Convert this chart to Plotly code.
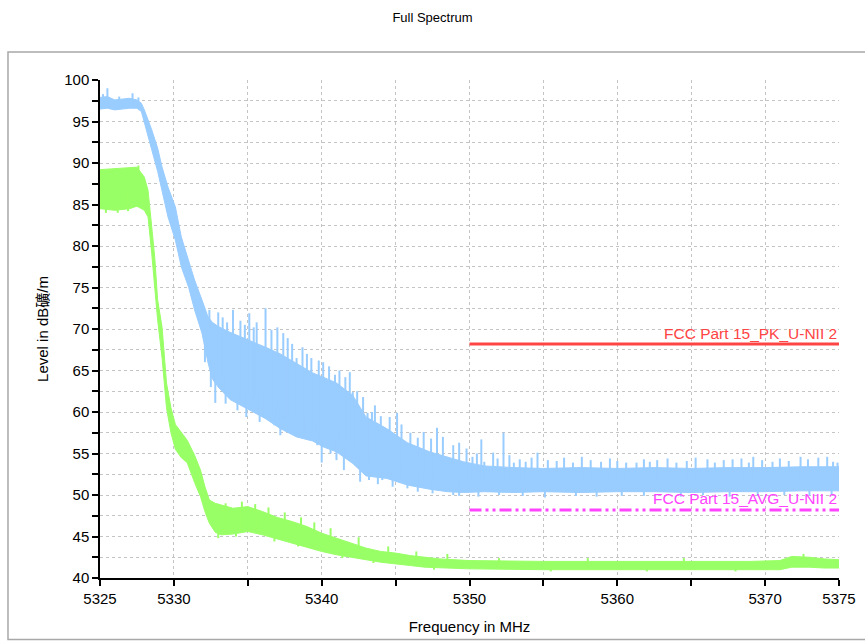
import plotly.graph_objects as go

# ---------------- data ----------------
# Peak trace (blue): envelope of the dense noise band
blue_f = [5325.0, 5325.5, 5326.0, 5326.5, 5327.0, 5327.5, 5327.8, 5328.0, 5328.5, 5328.9,
          5329.2, 5329.6, 5330.1, 5330.5, 5331.0, 5331.4, 5331.9, 5332.3, 5332.6, 5333.0,
          5333.8, 5334.9, 5336.2, 5337.2, 5338.3, 5339.4, 5340.1, 5341.0, 5342.1, 5343.0,
          5344.4, 5345.8, 5347.3, 5348.5, 5349.6, 5351.0, 5353.0, 5355.0, 5357.5, 5360.0,
          5362.5, 5365.0, 5367.5, 5370.0, 5372.5, 5375.0]
blue_lo = [96.5, 96.6, 96.4, 96.5, 96.6, 96.6, 96.2, 94.8, 91.6, 89.0,
           86.7, 83.5, 80.7, 77.5, 75.0, 72.3, 69.5, 66.0, 64.0, 63.0,
           61.5, 60.4, 59.2, 58.0, 57.0, 56.5, 55.8, 55.2, 53.8, 52.3,
           52.0, 51.2, 50.7, 50.4, 50.3, 50.4, 50.3, 50.4, 50.3, 50.4,
           50.4, 50.3, 50.4, 50.4, 50.5, 50.5]
blue_hi = [97.9, 98.0, 97.6, 97.7, 97.8, 97.6, 97.2, 96.4, 94.0, 91.8,
           89.5, 87.1, 84.7, 81.1, 78.3, 75.9, 73.5, 71.5, 70.8, 70.3,
           69.6, 68.8, 67.8, 67.0, 65.8, 64.7, 64.2, 63.5, 62.0, 59.4,
           58.0, 56.3, 55.2, 54.6, 54.0, 53.5, 53.3, 53.2, 53.3, 53.2,
           53.3, 53.2, 53.3, 53.3, 53.4, 53.4]

# Peak trace spikes (frequency, low end, high end)
blue_spike_f = [5325.2, 5325.5, 5326.3, 5327.2, 5327.6,
                5332.4, 5333.0, 5333.3, 5334.0, 5334.8, 5335.1, 5335.6, 5336.2, 5337.0, 5337.7,
                5338.3, 5339.3, 5340.1, 5340.9, 5341.6, 5342.1, 5343.1, 5343.6, 5344.6, 5345.1,
                5346.5, 5347.8, 5348.9,
                5332.1, 5333.6, 5334.5, 5335.4, 5336.6, 5337.4, 5338.0, 5338.7, 5339.0, 5339.8,
                5340.5, 5341.2, 5341.9, 5342.4, 5342.8, 5343.4, 5344.0, 5345.4, 5346.0, 5346.9,
                5347.4, 5348.2, 5349.3, 5349.8,
                5350.2, 5350.8, 5351.6, 5352.3, 5353.4, 5354.6, 5355.9, 5357.6, 5358.9, 5360.0,
                5361.3, 5362.7, 5364.7, 5366.1, 5367.8, 5369.2, 5370.5, 5372.4, 5373.6, 5374.9,
                5350.5, 5351.0, 5351.9, 5352.7, 5353.0, 5353.8, 5354.2, 5355.3, 5356.4, 5357.0,
                5358.2, 5359.5, 5360.6, 5361.8, 5362.2, 5363.4, 5364.0, 5365.3, 5366.6, 5367.2,
                5368.4, 5368.9, 5369.8, 5371.0, 5371.6, 5372.9, 5374.2, 5374.6,
                5332.5, 5332.8, 5334.3, 5334.9, 5335.8, 5337.2, 5338.2, 5340.0, 5341.5, 5342.6,
                5344.1, 5345.8, 5348.9, 5333.5, 5336.0, 5336.8, 5338.9, 5339.7, 5340.6, 5341.0,
                5343.2, 5343.8, 5344.8, 5346.5, 5347.5, 5349.3,
                5350.6, 5352.0, 5353.6, 5355.1, 5357.2, 5358.6, 5360.3, 5361.8, 5364.3, 5365.8,
                5367.6, 5369.5, 5371.3, 5373.0, 5374.5]
blue_spike_lo = [97.0, 97.0, 97.0, 97.0, 96.8,
                 66.0, 64.0, 64.0, 63.0, 62.0, 62.0, 62.0, 61.0, 60.0, 59.0,
                 59.0, 58.0, 57.0, 57.0, 56.0, 55.0, 54.0, 54.0, 53.0, 53.0,
                 52.0, 52.0, 51.5,
                 66.0, 63.0, 62.0, 61.0, 60.0, 59.0, 59.0, 58.0, 58.0, 57.0,
                 57.0, 56.0, 55.0, 54.0, 54.0, 53.0, 53.0, 52.0, 52.0, 52.0,
                 51.5, 51.5, 51.5, 51.5,
                 51.5, 51.5, 51.5, 51.5, 51.5, 51.5, 51.5, 51.5, 51.5, 51.5,
                 51.5, 51.5, 51.5, 51.5, 51.5, 51.5, 51.5, 51.5, 51.5, 51.5,
                 51.5, 51.5, 51.5, 51.5, 51.5, 51.5, 51.5, 51.5, 51.5, 51.5,
                 51.5, 51.5, 51.5, 51.5, 51.5, 51.5, 51.5, 51.5, 51.5, 51.5,
                 51.5, 51.5, 51.5, 51.5, 51.5, 51.5, 51.5, 51.5,
                 63.0, 61.1, 60.2, 59.4, 58.8, 57.2, 57.5, 53.9, 53.0, 51.6,
                 51.8, 50.8, 50.0, 61.0, 59.5, 58.4, 57.0, 56.0, 55.0, 54.2,
                 51.8, 51.3, 51.0, 50.4, 50.2, 49.9,
                 49.8, 50.0, 49.9, 49.7, 49.9, 49.8, 49.9, 49.9, 49.8, 50.0,
                 49.8, 49.9, 50.0, 49.9, 50.0]
blue_spike_hi = [98.3, 99.0, 98.0, 98.4, 97.9,
                 72.3, 72.0, 71.4, 72.3, 70.5, 71.9, 70.8, 72.5, 70.2, 68.9,
                 66.5, 66.5, 66.0, 64.5, 64.2, 62.4, 59.9, 60.8, 59.4, 59.9,
                 56.9, 58.1, 56.0,
                 70.5, 70.8, 71.0, 70.2, 69.9, 69.5, 68.2, 67.8, 67.0, 66.2,
                 65.5, 65.0, 64.8, 62.5, 61.8, 60.0, 59.5, 58.5, 57.5, 57.6,
                 56.8, 57.0, 56.3, 55.6,
                 54.6, 56.7, 55.1, 57.5, 54.3, 55.1, 54.1, 54.6, 54.0, 54.1,
                 53.9, 54.2, 54.1, 54.3, 54.3, 54.6, 54.0, 54.6, 54.5, 53.9,
                 55.0, 54.0, 54.4, 54.8, 53.9, 54.0, 54.5, 54.2, 54.5, 53.9,
                 54.2, 54.4, 53.9, 54.3, 54.0, 54.4, 53.9, 54.5, 53.9, 54.2,
                 54.4, 53.9, 54.2, 54.4, 54.1, 54.3, 54.6, 54.0,
                 66.0, 65.0, 63.0, 62.0, 62.0, 60.0, 60.0, 58.0, 56.0, 55.0,
                 54.0, 53.0, 52.0, 64.0, 62.0, 61.0, 60.0, 59.0, 58.0, 57.0,
                 54.0, 54.0, 53.0, 52.0, 52.0, 51.5,
                 51.0, 51.0, 51.0, 51.0, 51.0, 51.0, 51.0, 51.0, 51.0, 51.0,
                 51.0, 51.0, 51.0, 51.0, 51.0]

# Average trace (green): envelope of the dense noise band
green_f = [5325.0, 5326.0, 5327.0, 5327.5, 5328.0, 5328.25, 5328.5, 5328.7, 5328.9, 5329.2,
           5329.5, 5329.8, 5330.1, 5330.5, 5330.9, 5331.4, 5331.8, 5332.1, 5332.4, 5332.8,
           5333.2, 5334.0, 5335.0, 5336.0, 5337.0, 5338.0, 5339.0, 5340.0, 5341.0, 5342.0,
           5343.0, 5344.0, 5345.0, 5346.0, 5347.0, 5348.0, 5350.0, 5355.0, 5360.0, 5365.0,
           5369.0, 5371.0, 5371.8, 5373.0, 5374.0, 5375.0]
green_lo = [84.5, 84.3, 84.5, 84.8, 84.3, 83.5, 79.1, 75.5, 71.1, 66.5,
            60.5, 57.5, 55.5, 54.5, 53.9, 51.5, 49.8, 48.0, 46.6, 45.5,
            45.2, 45.3, 45.6, 45.2, 44.7, 44.2, 43.7, 43.2, 42.8, 42.5,
            42.2, 41.9, 41.7, 41.5, 41.3, 41.2, 41.1, 41.0, 41.0, 41.0,
            41.0, 41.0, 41.3, 41.3, 41.2, 41.2]
green_hi = [89.2, 89.3, 89.4, 89.5, 88.3, 86.7, 82.3, 78.7, 73.5, 70.2,
            63.5, 60.5, 58.5, 57.5, 56.6, 54.8, 53.0, 51.0, 49.4, 49.0,
            48.8, 48.4, 48.6, 48.0, 47.3, 46.8, 46.2, 45.4, 44.8, 44.2,
            43.6, 43.2, 43.0, 42.7, 42.5, 42.3, 42.1, 42.0, 42.0, 42.0,
            42.0, 42.1, 42.6, 42.5, 42.3, 42.2]

# Average trace spikes (frequency, low end, high end)
green_spike_f = [5325.4, 5326.2, 5326.9, 5327.6,
                 5333.5, 5334.6, 5335.5, 5336.4, 5337.5, 5338.6, 5339.5, 5340.6, 5342.5, 5344.5,
                 5346.4, 5348.5, 5333.0, 5334.2, 5336.8, 5338.4, 5341.4, 5343.5, 5347.6,
                 5352.0, 5355.5, 5358.0, 5362.0, 5364.5, 5368.0, 5372.6]
green_spike_lo = [84.0, 84.0, 84.2, 86.0,
                  46.0, 46.0, 46.0, 45.0, 45.0, 44.5, 44.0, 43.5, 42.8, 42.2,
                  41.8, 41.5, 44.8, 45.0, 44.4, 43.8, 42.4, 41.8, 41.0,
                  41.3, 40.8, 41.3, 40.8, 41.3, 40.8, 41.6]
green_spike_hi = [87.0, 87.0, 87.0, 89.7,
                  49.0, 49.2, 48.9, 48.5, 47.9, 47.3, 46.7, 46.0, 44.9, 43.8,
                  43.2, 42.9, 47.0, 47.0, 46.5, 46.0, 44.0, 43.0, 42.3,
                  42.4, 41.8, 42.4, 41.8, 42.4, 41.8, 42.9]

# Limit lines
limit_f = [5350, 5375]
pk_limit = 68.2
avg_limit = 48.2
pk_label = "FCC Part 15_PK_U-NII 2"
avg_label = "FCC Part 15_AVG_U-NII 2"

x_ticks = [5325, 5330, 5340, 5350, 5360, 5370, 5375]

title_text = "Full Spectrum"
x_title = "Frequency in MHz"
y_title = "Level in dB礦/m"

BLUE = "#99ccff"
GREEN = "#99ff66"
RED = "#ff4444"
MAGENTA = "#ff44ff"
FONT = "Liberation Sans, Arial, Noto Sans CJK SC, sans-serif"


def band(f, lo, hi, color):
    x = list(f) + list(f)[::-1]
    y = list(hi) + list(lo)[::-1]
    return go.Scatter(x=x, y=y, mode="lines", fill="toself", fillcolor=color,
                      line=dict(color=color, width=1), hoverinfo="skip", showlegend=False)


def spikes(f, lo, hi, color, width):
    xs, ys = [], []
    for a, l, h in zip(f, lo, hi):
        xs += [a, a, None]
        ys += [l, h, None]
    return go.Scatter(x=xs, y=ys, mode="lines", line=dict(color=color, width=width),
                      hoverinfo="skip", showlegend=False)


fig = go.Figure()
fig.add_trace(band(blue_f, blue_lo, blue_hi, BLUE))
fig.add_trace(spikes(blue_spike_f, blue_spike_lo, blue_spike_hi, BLUE, 2))
fig.add_trace(band(green_f, green_lo, green_hi, GREEN))
fig.add_trace(spikes(green_spike_f, green_spike_lo, green_spike_hi, GREEN, 2))
fig.add_trace(go.Scatter(x=limit_f, y=[pk_limit] * len(limit_f), mode="lines",
                         line=dict(color=RED, width=3), showlegend=False))
fig.add_trace(go.Scatter(x=limit_f, y=[avg_limit] * len(limit_f), mode="lines",
                         line=dict(color=MAGENTA, width=3,
                                   dash="12px,4px,3px,4px,3px,4px"), showlegend=False))

fig.add_annotation(x=limit_f[-1], y=pk_limit, text=pk_label, showarrow=False,
                   xanchor="right", yanchor="bottom", yshift=0,
                   font=dict(family=FONT, size=15.5, color=RED))
fig.add_annotation(x=limit_f[-1], y=avg_limit, text=avg_label, showarrow=False,
                   xanchor="right", yanchor="bottom", yshift=1,
                   font=dict(family=FONT, size=15.5, color=MAGENTA))

# outer gray frame
fig.add_shape(type="rect", xref="paper", yref="paper",
              x0=-0.1245, x1=1.05, y0=-0.1235, y1=1.056,
              line=dict(color="#a8a8a8", width=1.5), fillcolor="rgba(0,0,0,0)", layer="below")

grid = dict(showgrid=True, gridcolor="#c4c4c4", griddash="dot", gridwidth=1)

fig.update_layout(
    width=865, height=641,
    margin=dict(l=100, r=26, t=80, b=63),
    paper_bgcolor="white", plot_bgcolor="white",
    font=dict(family=FONT, size=15, color="black"),
    title=dict(text=title_text, x=0.5, xref="container", xanchor="center",
               y=0.973, yanchor="middle",
               font=dict(family=FONT, size=13, color="black")),
    xaxis=dict(range=[5325, 5375], tickvals=x_ticks, ticks="outside", ticklen=6,
               tickcolor="black", tickwidth=1.5, showline=True, linecolor="black",
               linewidth=1.5, zeroline=False, automargin=False, **grid,
               minor=dict(tick0=5325, dtick=5, ticks="outside", ticklen=6,
                          tickcolor="black", tickwidth=1.5, **grid),
               title=dict(text=x_title, standoff=16, font=dict(family=FONT, size=15))),
    yaxis=dict(range=[40, 100], dtick=5, ticks="outside", ticklen=6, tickcolor="black",
               tickwidth=1.5, showline=True, linecolor="black", linewidth=1.5,
               zeroline=False, automargin=False, **grid,
               minor=dict(dtick=2.5, ticks="outside", ticklen=6, tickcolor="black",
                          tickwidth=1.5, **grid),
               title=dict(text=y_title, standoff=12, font=dict(family=FONT, size=15))),
)

fig.write_html("out.html")
